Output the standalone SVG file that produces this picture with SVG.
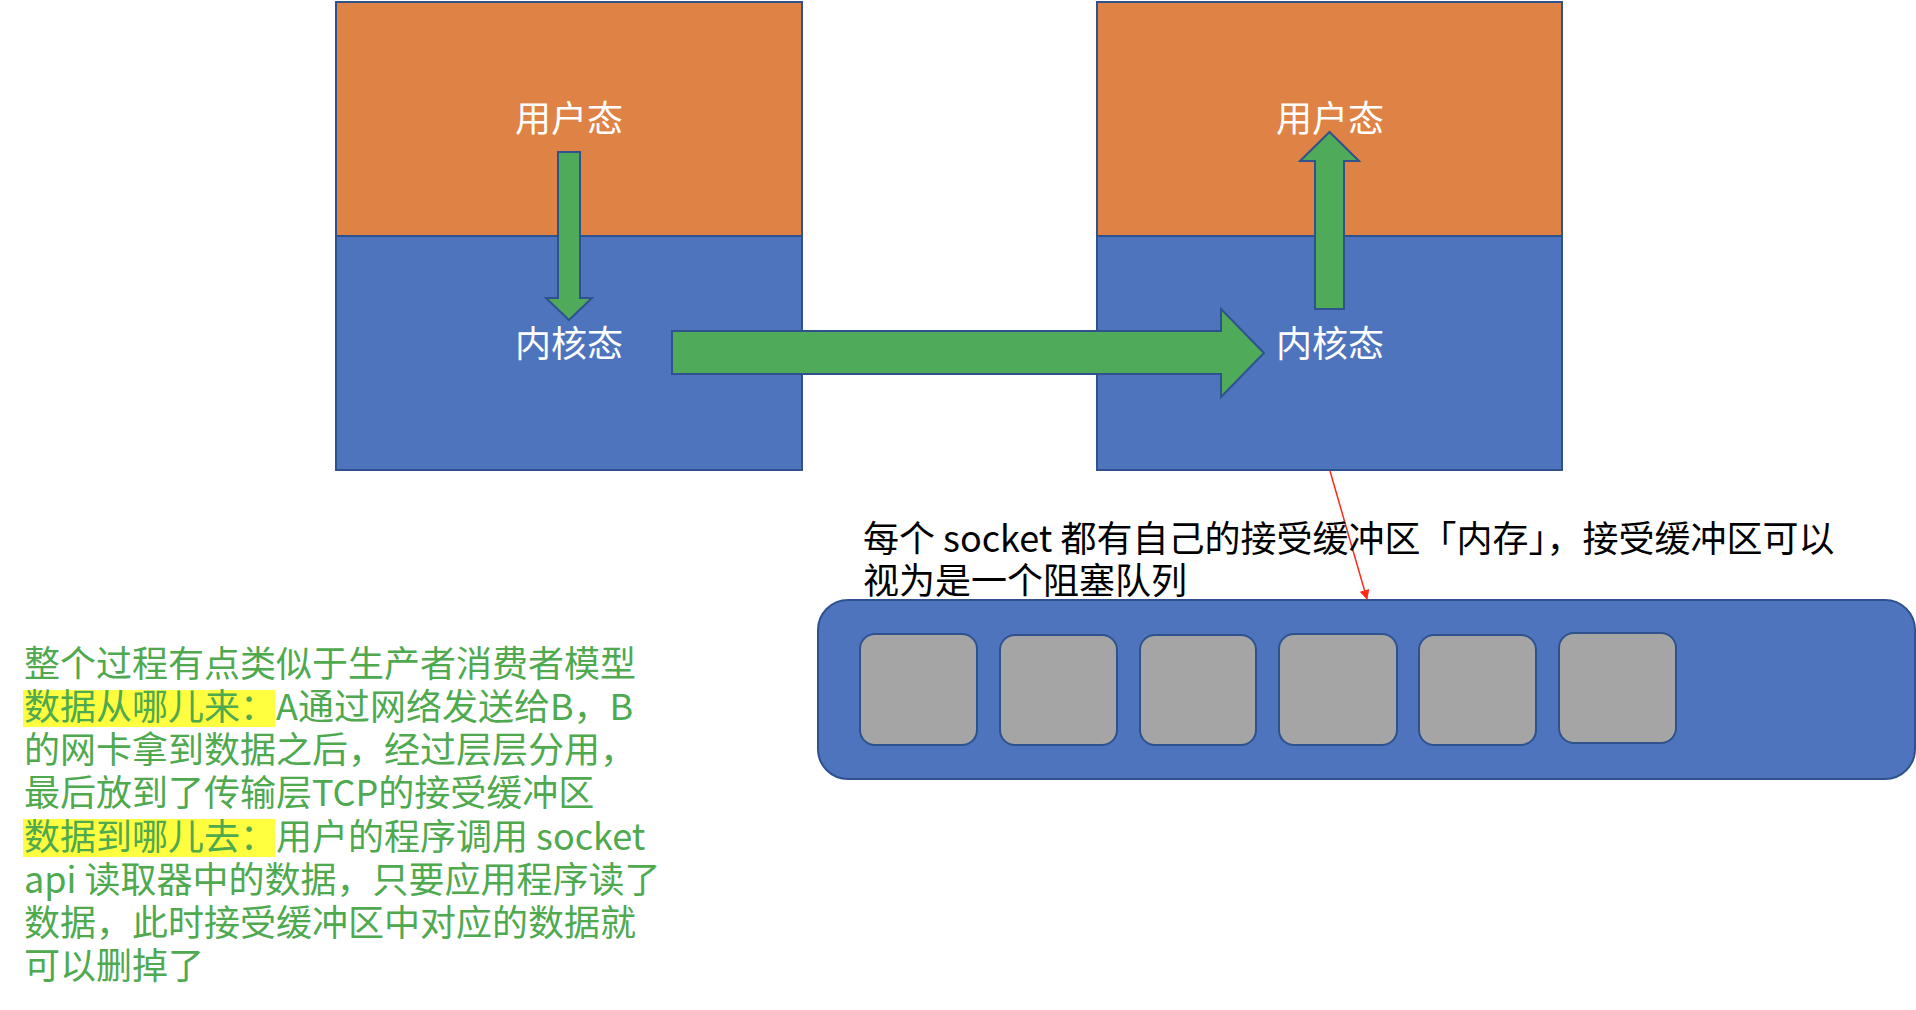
<svg xmlns="http://www.w3.org/2000/svg" width="1916" height="1010" viewBox="0 0 1916 1010">
<style>
.orange{fill:#DF8245;stroke:#2F528F;stroke-width:2}
.blue{fill:#4E74BE;stroke:#2F528F;stroke-width:2}
.arrow{fill:#4FAA5A;stroke:#2F528F;stroke-width:2}
.cell{fill:#A5A5A5;stroke:#2F528F;stroke-width:2}
.lbl{font-family:"Noto Sans CJK SC","Noto Sans",sans-serif;font-size:36px;fill:#FFFFFF;text-anchor:middle}
.note{font-family:"Noto Sans CJK SC","Noto Sans",sans-serif;font-size:36px;fill:#000000}
.green{font-family:"Noto Sans CJK SC","Noto Sans",sans-serif;font-size:36px;fill:#4EA94F}
.hl{fill:#FFFF40}
</style>
<defs>
<marker id="redhead" markerWidth="10" markerHeight="10" refX="9" refY="5" orient="auto" markerUnits="userSpaceOnUse">
<path d="M0,0 L10,5 L0,10 Z" fill="#FF2A1A"/>
</marker>
</defs>
<rect width="1916" height="1010" fill="#FFFFFF"/>
<g id="hostA">
<rect class="orange" x="336" y="2" width="466" height="234"/>
<rect class="blue" x="336" y="236" width="466" height="234"/>
<text class="lbl" x="569" y="132">用户态</text>
<text class="lbl" x="569" y="357">内核态</text>
</g>
<g id="hostB">
<rect class="orange" x="1097" y="2" width="465" height="234"/>
<rect class="blue" x="1097" y="236" width="465" height="234"/>
<text class="lbl" x="1330" y="132">用户态</text>
<text class="lbl" x="1330" y="357">内核态</text>
</g>
<g id="queue">
<rect class="blue" x="818" y="600" width="1097" height="179" rx="30" ry="30"/>
<rect class="cell" x="860" y="634" width="117" height="111" rx="15" ry="15"/>
<rect class="cell" x="1000" y="635" width="117" height="110" rx="15" ry="15"/>
<rect class="cell" x="1140" y="635" width="116" height="110" rx="15" ry="15"/>
<rect class="cell" x="1279" y="634" width="118" height="111" rx="15" ry="15"/>
<rect class="cell" x="1419" y="635" width="117" height="110" rx="15" ry="15"/>
<rect class="cell" x="1559" y="633" width="117" height="110" rx="15" ry="15"/>
</g>
<g id="connectors">
<polygon class="arrow" points="558,152 580,152 580,298 592,298 569,320 546,298 558,298"/>
<polygon class="arrow" points="672,331 1221,331 1221,309 1264,353 1221,397 1221,374 672,374"/>
<polygon class="arrow" points="1315,309 1315,161 1300,161 1329.5,132 1359,161 1344,161 1344,309"/>
<line x1="1330" y1="471" x2="1367" y2="599" stroke="#FF2A1A" stroke-width="1.5" marker-end="url(#redhead)"/>
</g>
<g id="queue-note">
<text class="note" x="863" y="552">每个 socket 都有自己的接受缓冲区「内存」，接受缓冲区可以<tspan x="863" dy="42">视为是一个阻塞队列</tspan></text>
</g>
<g id="explanation">
<rect class="hl" x="23" y="690" width="252" height="37"/>
<rect class="hl" x="23" y="819" width="252" height="38"/>
<text class="green" x="24" y="677">整个过程有点类似于生产者消费者模型<tspan x="24" dy="43">数据从哪儿来：A通过网络发送给B，B</tspan><tspan x="24" dy="43">的网卡拿到数据之后，经过层层分用，</tspan><tspan x="24" dy="43">最后放到了传输层TCP的接受缓冲区</tspan><tspan x="24" dy="44">数据到哪儿去：用户的程序调用 socket</tspan><tspan x="24" dy="43">api 读取器中的数据，只要应用程序读了</tspan><tspan x="24" dy="43">数据，此时接受缓冲区中对应的数据就</tspan><tspan x="24" dy="43">可以删掉了</tspan></text>
</g>
</svg>
